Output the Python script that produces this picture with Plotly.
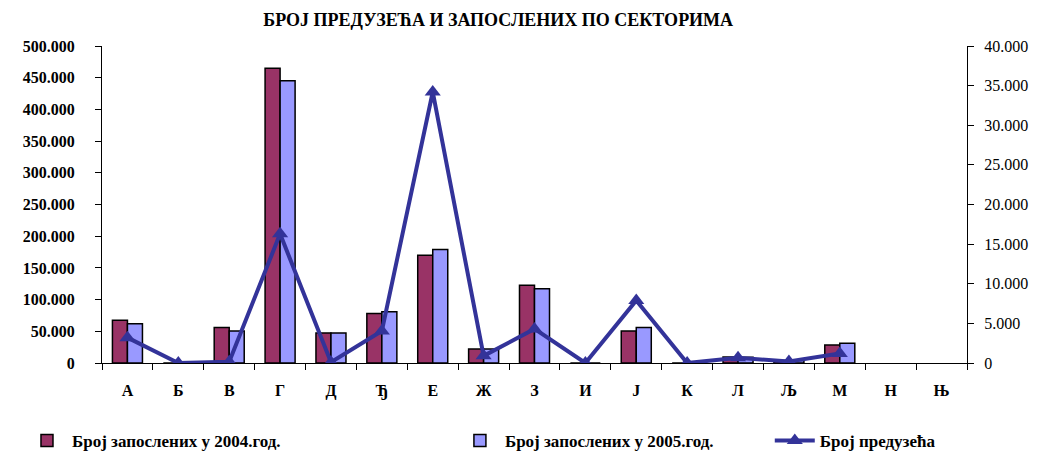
import plotly.graph_objects as go

categories = ["А", "Б", "В", "Г", "Д", "Ђ", "Е", "Ж", "З", "И", "Ј", "К", "Л", "Љ", "М", "Н", "Њ"]
emp_2004 = [67500, 0, 56000, 465000, 47500, 78000, 170000, 22000, 122500, 0, 50500, 0, 9500, 4000, 28500, None, None]
emp_2005 = [62000, 0, 50500, 445000, 47500, 81000, 179000, 22000, 117000, 0, 56000, 0, 9000, 4000, 31000, None, None]
firms = [3200, 0, 150, 16300, 100, 4050, 34200, 900, 4300, 0, 7900, 0, 650, 200, 1200, None, None]

left_ticks = list(range(0, 500001, 50000))
right_ticks = list(range(0, 40001, 5000))

name_2004 = "Број запослених у 2004.год."
name_2005 = "Број запослених у 2005.год."
name_firms = "Број предузећа"

serif = "Liberation Serif"
x_range = [-0.5, len(categories) - 0.5]

fig = go.Figure()
fig.add_trace(go.Bar(x=categories, y=emp_2004, name=name_2004,
                     marker=dict(color="#993366", line=dict(color="black", width=1.5)),
                     legend="legend"))
fig.add_trace(go.Bar(x=categories, y=emp_2005, name=name_2005,
                     marker=dict(color="#9999FF", line=dict(color="black", width=1.5)),
                     legend="legend2"))
fig.add_trace(go.Scatter(x=categories, y=firms, name=name_firms, yaxis="y2",
                         mode="lines+markers", connectgaps=False,
                         line=dict(color="#333399", width=4),
                         marker=dict(symbol="triangle-up", size=14, color="#333399"),
                         legend="legend3"))

legend_common = dict(orientation="h", yanchor="middle", y=-0.246, xanchor="left",
                     font=dict(family=serif, size=17, color="black", weight="bold"),
                     bgcolor="rgba(0,0,0,0)", itemwidth=40)

fig.update_layout(
    width=1043, height=454,
    margin=dict(l=94, r=84, t=38, b=99, autoexpand=False),
    paper_bgcolor="white", plot_bgcolor="white",
    separators=",.",
    barmode="group", bargap=0.41, bargroupgap=0,
    title=dict(text="<b>БРОЈ ПРЕДУЗЕЋА И ЗАПОСЛЕНИХ ПО СЕКТОРИМА</b>",
               x=0.47, xanchor="center", y=0.974, yref="container", yanchor="middle",
               font=dict(family=serif, size=18, color="black")),
    xaxis=dict(type="category", categoryorder="array", categoryarray=categories,
               range=x_range, autorange=False,
               showline=True, linecolor="black", linewidth=1,
               ticks="outside", tickson="boundaries", ticklen=6, tickcolor="black",
               tickfont=dict(family=serif, size=16, color="black", weight="bold"),
               showgrid=False, zeroline=False, ticklabelstandoff=13, automargin=False),
    xaxis2=dict(type="category", categoryorder="array", categoryarray=categories,
                range=x_range, autorange=False,
                overlaying="x", showline=False,
                ticks="inside", tickson="boundaries", ticklen=4, tickcolor="black",
                showticklabels=False, showgrid=False, zeroline=False, automargin=False),
    yaxis=dict(range=[0, 500000], tickvals=left_ticks, tickformat=",d",
               showline=True, linecolor="black", linewidth=1,
               ticks="outside", ticklen=6, tickcolor="black",
               tickfont=dict(family=serif, size=16, color="black", weight="bold"),
               ticklabelstandoff=17,
               showgrid=False, zeroline=False, automargin=False),
    yaxis3=dict(range=[0, 500000], tickvals=left_ticks, overlaying="y", side="left",
                ticks="inside", ticklen=3, tickcolor="black", showticklabels=False,
                showline=False, showgrid=False, zeroline=False, automargin=False),
    yaxis2=dict(range=[0, 40000], tickvals=right_ticks, tickformat=",d",
                overlaying="y", side="right",
                showline=True, linecolor="black", linewidth=1,
                ticks="outside", ticklen=6, tickcolor="black",
                tickfont=dict(family=serif, size=16, color="black"),
                ticklabelstandoff=7,
                showgrid=False, zeroline=False, automargin=False),
    yaxis4=dict(range=[0, 40000], tickvals=right_ticks, overlaying="y", side="right",
                ticks="inside", ticklen=5, tickcolor="black", showticklabels=False,
                showline=False, showgrid=False, zeroline=False, automargin=False),
    legend=dict(legend_common, x=-0.0925),
    legend2=dict(legend_common, x=0.408),
    legend3=dict(legend_common, x=0.772),
    showlegend=True,
)

fig.write_html("out.html")
